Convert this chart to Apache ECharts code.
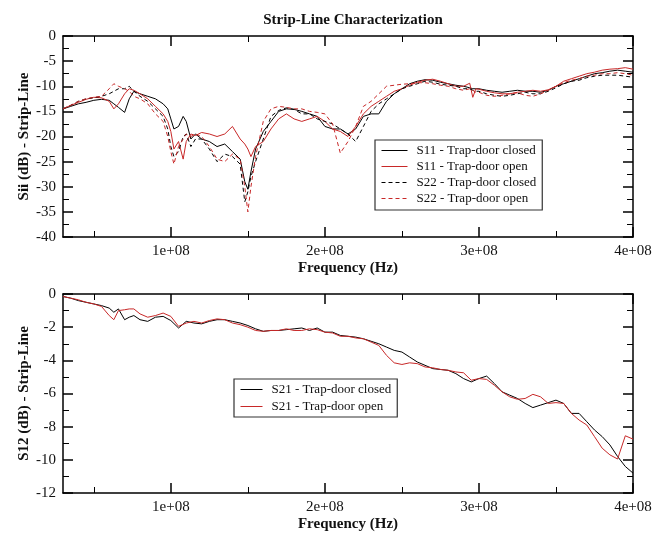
<!DOCTYPE html>
<html><head><meta charset="utf-8">
<script src="https://cdn.jsdelivr.net/npm/echarts@6/dist/echarts.min.js"></script>
<style>html,body{margin:0;padding:0;background:#fff;overflow:hidden}#c{width:667px;height:533px}</style>
</head><body><div id="c"></div>
<script>
const chartTitle = 'Strip-Line Characterization';
const xTitle = 'Frequency (Hz)';
const yTitleTop = 'Sii (dB) - Strip-Line';
const yTitleBottom = 'S12 (dB) - Strip-Line';
const xMajorTicks = [1e8, 2e8, 3e8, 4e8];
const xMinorTicks = [5e7, 1.5e8, 2.5e8, 3.5e8];

const freqTop = [30e6,35e6,40e6,45e6,50e6,55e6,60e6,63e6,66e6,70e6,73e6,76e6,80e6,85e6,90e6,95e6,98e6,100e6,102e6,105e6,108e6,110e6,113e6,116e6,120e6,125e6,130e6,135e6,140e6,145e6,148e6,150e6,152e6,155e6,160e6,165e6,170e6,175e6,180e6,185e6,190e6,195e6,200e6,205e6,210e6,215e6,220e6,225e6,230e6,235e6,240e6,245e6,250e6,255e6,260e6,265e6,270e6,275e6,280e6,285e6,290e6,294e6,296e6,298e6,300e6,305e6,310e6,315e6,320e6,325e6,330e6,335e6,340e6,345e6,350e6,355e6,360e6,365e6,370e6,375e6,380e6,385e6,390e6,395e6,400e6];

const s11Closed = [-14.5,-14.0,-13.5,-13.2,-12.8,-12.6,-12.8,-13.5,-14.2,-15.2,-12.5,-11.0,-11.5,-12.0,-12.5,-13.5,-14.5,-16.5,-18.5,-18.0,-16.0,-17.0,-20.5,-19.5,-20.5,-21.0,-22.0,-21.5,-23.0,-24.5,-29.0,-30.5,-27.0,-22.5,-19.0,-17.0,-15.0,-14.5,-14.6,-15.0,-15.5,-16.0,-18.0,-18.5,-18.5,-19.5,-18.5,-16.0,-15.5,-15.5,-13.0,-11.5,-10.5,-9.5,-9.0,-8.7,-8.8,-9.2,-9.5,-9.8,-10.0,-10.3,-10.5,-10.5,-10.5,-10.8,-11.0,-11.2,-11.0,-10.8,-11.0,-11.0,-11.2,-10.8,-10.0,-9.5,-9.0,-8.5,-8.0,-7.5,-7.3,-7.0,-6.8,-7.0,-7.2];
const s11Open = [-14.5,-13.8,-13.2,-12.6,-12.2,-12.3,-13.0,-14.5,-13.5,-11.5,-10.5,-10.8,-11.5,-12.5,-14.0,-15.5,-17.0,-19.0,-22.5,-21.0,-24.5,-21.0,-19.5,-19.8,-19.2,-19.5,-20.0,-19.5,-18.0,-20.5,-21.5,-22.5,-24.0,-22.0,-21.0,-18.5,-16.5,-15.5,-16.5,-17.0,-16.5,-16.0,-17.0,-18.5,-19.0,-20.0,-18.0,-15.5,-14.0,-13.0,-12.0,-11.0,-10.5,-9.8,-9.2,-8.8,-8.6,-9.0,-9.5,-10.0,-10.0,-9.4,-12.2,-10.5,-10.6,-11.0,-11.3,-11.5,-11.5,-11.2,-11.0,-10.8,-11.0,-10.7,-10.0,-9.0,-8.5,-8.0,-7.5,-7.2,-6.8,-6.6,-6.5,-6.3,-6.6];
const s22Closed = [-14.5,-13.8,-13.0,-12.5,-12.3,-12.0,-11.5,-11.0,-10.5,-10.5,-10.0,-11.0,-12.0,-13.0,-14.5,-16.0,-18.5,-22.0,-24.0,-23.0,-20.0,-19.5,-22.0,-20.5,-20.5,-22.5,-25.0,-23.5,-24.0,-25.5,-33.0,-31.0,-28.0,-25.0,-20.5,-16.0,-14.8,-14.3,-14.6,-15.5,-15.5,-16.5,-17.0,-17.5,-18.5,-19.5,-21.0,-18.0,-15.0,-13.5,-12.5,-11.5,-10.5,-10.0,-9.5,-9.0,-9.2,-9.6,-9.8,-10.0,-10.5,-10.5,-10.8,-11.0,-11.0,-11.5,-11.8,-12.0,-11.8,-11.5,-11.2,-11.5,-11.5,-11.0,-10.3,-9.5,-9.0,-8.8,-8.3,-8.0,-7.8,-7.8,-7.8,-8.0,-8.2];
const s22Open = [-14.5,-13.8,-13.0,-12.5,-12.2,-12.0,-10.5,-9.5,-10.0,-10.5,-11.0,-12.0,-12.5,-13.5,-15.5,-17.0,-20.0,-23.0,-25.5,-22.0,-20.5,-19.5,-20.0,-19.5,-20.0,-22.0,-24.5,-25.0,-23.5,-24.5,-30.0,-35.0,-30.0,-24.0,-17.0,-14.5,-14.0,-14.2,-14.5,-14.5,-15.0,-15.2,-15.5,-17.5,-23.3,-21.0,-18.0,-14.0,-13.0,-11.5,-10.0,-9.8,-9.6,-9.5,-9.3,-9.3,-9.5,-9.8,-10.0,-10.5,-10.8,-10.5,-10.8,-11.2,-11.2,-11.8,-12.0,-11.8,-11.5,-11.3,-11.8,-12.0,-11.5,-10.8,-10.0,-9.3,-8.8,-8.5,-8.0,-7.8,-7.5,-7.5,-7.3,-7.5,-7.8];

const freqBottom = [30e6,35e6,40e6,45e6,50e6,55e6,60e6,63e6,66e6,70e6,73e6,76e6,80e6,85e6,90e6,95e6,100e6,105e6,110e6,115e6,120e6,125e6,130e6,135e6,140e6,145e6,150e6,155e6,160e6,165e6,170e6,175e6,180e6,185e6,190e6,195e6,200e6,205e6,210e6,215e6,220e6,225e6,230e6,235e6,240e6,245e6,250e6,255e6,260e6,265e6,270e6,275e6,280e6,285e6,290e6,295e6,300e6,305e6,310e6,315e6,320e6,325e6,330e6,335e6,340e6,345e6,350e6,355e6,360e6,365e6,370e6,375e6,380e6,385e6,390e6,395e6,400e6];
const s21Closed = [-0.15,-0.25,-0.4,-0.5,-0.6,-0.7,-0.85,-1.1,-0.9,-1.55,-1.4,-1.3,-1.55,-1.65,-1.4,-1.35,-1.6,-2.05,-1.65,-1.75,-1.8,-1.65,-1.55,-1.55,-1.65,-1.75,-1.9,-2.1,-2.25,-2.2,-2.2,-2.15,-2.1,-2.05,-2.2,-2.05,-2.3,-2.3,-2.5,-2.55,-2.6,-2.7,-2.85,-3.0,-3.2,-3.4,-3.5,-3.8,-4.1,-4.3,-4.5,-4.55,-4.6,-4.8,-5.1,-5.3,-5.1,-4.95,-5.4,-5.9,-6.1,-6.3,-6.6,-6.85,-6.7,-6.55,-6.4,-6.6,-7.2,-7.2,-7.7,-8.2,-8.6,-9.1,-9.8,-10.4,-10.8];
const s21Open = [-0.15,-0.25,-0.35,-0.5,-0.6,-0.75,-1.3,-1.55,-1.0,-0.95,-0.9,-0.9,-1.2,-1.4,-1.3,-1.15,-1.35,-1.95,-1.75,-1.65,-1.75,-1.6,-1.5,-1.55,-1.75,-1.85,-2.0,-2.2,-2.25,-2.2,-2.2,-2.1,-2.2,-2.2,-2.1,-2.15,-2.3,-2.35,-2.55,-2.55,-2.65,-2.7,-2.9,-3.1,-3.7,-4.15,-4.25,-4.15,-4.2,-4.4,-4.45,-4.55,-4.6,-4.7,-4.75,-5.2,-5.1,-5.15,-5.5,-5.9,-6.2,-6.35,-6.3,-6.05,-6.2,-6.6,-6.55,-6.6,-7.2,-7.6,-7.9,-8.6,-9.3,-9.7,-9.95,-8.55,-8.75];

const FONT = 'Liberation Serif';
const BLACK = '#000000';
const RED = '#c82828';

function pairs(xs, ys) { return xs.map((x, i) => [x, ys[i]]); }
function fmtX(v) { return Math.round(v / 1e8) + 'e+08'; }

function xAxes(gridIndex) {
  const base = { type: 'value', gridIndex, min: 3e7, max: 4e8, splitLine: { show: false } };
  return [
    Object.assign({}, base, {
      position: 'bottom',
      axisLine: { show: true, onZero: false, lineStyle: { color: BLACK, width: 1.5 } },
      axisTick: { show: true, inside: true, length: 10, customValues: xMajorTicks, lineStyle: { color: BLACK, width: 1.5 } },
      axisLabel: { show: true, customValues: xMajorTicks, formatter: fmtX, margin: 7, color: '#111', fontFamily: FONT, fontSize: 15 },
      name: xTitle, nameLocation: 'middle', nameGap: 24, nameMoveOverlap: false,
      nameTextStyle: { fontFamily: FONT, fontSize: 15, fontWeight: 'bold', color: '#111' }
    }),
    Object.assign({}, base, {
      position: 'bottom',
      axisLine: { show: false, onZero: false },
      axisTick: { show: true, inside: true, length: 6, customValues: xMinorTicks, lineStyle: { color: BLACK, width: 1 } },
      axisLabel: { show: false }
    }),
    Object.assign({}, base, {
      position: 'top',
      axisLine: { show: true, onZero: false, lineStyle: { color: BLACK, width: 1.5 } },
      axisTick: { show: true, inside: true, length: 10, customValues: xMajorTicks, lineStyle: { color: BLACK, width: 1.5 } },
      axisLabel: { show: false }
    }),
    Object.assign({}, base, {
      position: 'top',
      axisLine: { show: false, onZero: false },
      axisTick: { show: true, inside: true, length: 6, customValues: xMinorTicks, lineStyle: { color: BLACK, width: 1 } },
      axisLabel: { show: false }
    })
  ];
}

function yAxes(gridIndex, min, interval, name) {
  const base = {
    type: 'value', gridIndex, min, max: 0, interval, splitLine: { show: false },
    minorTick: { show: true, splitNumber: 2, length: 6, lineStyle: { color: BLACK, width: 1 } },
    minorSplitLine: { show: false }
  };
  return [
    Object.assign({}, base, {
      position: 'left',
      axisLine: { show: true, onZero: false, lineStyle: { color: BLACK, width: 1.5 } },
      axisTick: { show: true, inside: true, length: 10, lineStyle: { color: BLACK, width: 1.5 } },
      axisLabel: { show: true, margin: 7, color: '#111', fontFamily: FONT, fontSize: 15 },
      name, nameLocation: 'middle', nameGap: 31, nameMoveOverlap: false,
      nameTextStyle: { fontFamily: FONT, fontSize: 15, fontWeight: 'bold', color: '#111' }
    }),
    Object.assign({}, base, {
      position: 'right',
      axisLine: { show: true, onZero: false, lineStyle: { color: BLACK, width: 1.5 } },
      axisTick: { show: true, inside: true, length: 10, lineStyle: { color: BLACK, width: 1.5 } },
      axisLabel: { show: false }
    })
  ];
}

function lineSeries(name, data, color, dashed, xi, yi) {
  return {
    name, type: 'line', data, xAxisIndex: xi, yAxisIndex: yi,
    symbol: 'none', smooth: false, silent: true,
    lineStyle: { color, width: 1, type: dashed ? [4, 3] : 'solid' },
    itemStyle: { color }
  };
}

const legendText = { fontFamily: FONT, fontSize: 13, color: '#111', padding: [0, 0, 0, 4] };

const chart = echarts.init(document.getElementById('c'), null, { renderer: 'canvas' });
chart.setOption({
  animation: false,
  backgroundColor: '#ffffff',
  title: {
    text: chartTitle, left: 348, top: 8, textAlign: 'center',
    textStyle: { fontFamily: FONT, fontSize: 15, fontWeight: 'bold', color: '#111' }
  },
  grid: [
    { left: 63, top: 36, width: 570, height: 201 },
    { left: 63, top: 294, width: 570, height: 200 }
  ],
  xAxis: xAxes(0).concat(xAxes(1)),
  yAxis: yAxes(0, -40, 5, yTitleTop).concat(yAxes(1, -12, 2, yTitleBottom)),
  legend: [
    {
      left: 375, top: 140, orient: 'vertical',
      data: ['S11 - Trap-door closed', 'S11 - Trap-door open', 'S22 - Trap-door closed', 'S22 - Trap-door open'],
      itemWidth: 26, itemHeight: 14, itemGap: 3,
      padding: [4, 6, 5, 6],
      borderColor: '#333', borderWidth: 1.2, backgroundColor: '#fff',
      itemStyle: { opacity: 0 },
      lineStyle: { width: 1 },
      textStyle: legendText, selectedMode: false
    },
    {
      left: 234, top: 379, orient: 'vertical',
      data: ['S21 - Trap-door closed', 'S21 - Trap-door open'],
      itemWidth: 22, itemHeight: 14, itemGap: 4,
      padding: [4, 6, 4, 6],
      borderColor: '#333', borderWidth: 1.2, backgroundColor: '#fff',
      itemStyle: { opacity: 0 },
      lineStyle: { width: 1 },
      textStyle: legendText, selectedMode: false
    }
  ],
  series: [
    lineSeries('S11 - Trap-door closed', pairs(freqTop, s11Closed), BLACK, false, 0, 0),
    lineSeries('S11 - Trap-door open', pairs(freqTop, s11Open), RED, false, 0, 0),
    lineSeries('S22 - Trap-door closed', pairs(freqTop, s22Closed), BLACK, true, 0, 0),
    lineSeries('S22 - Trap-door open', pairs(freqTop, s22Open), RED, true, 0, 0),
    lineSeries('S21 - Trap-door closed', pairs(freqBottom, s21Closed), BLACK, false, 4, 2),
    lineSeries('S21 - Trap-door open', pairs(freqBottom, s21Open), RED, false, 4, 2)
  ]
});
</script>
</body></html>
